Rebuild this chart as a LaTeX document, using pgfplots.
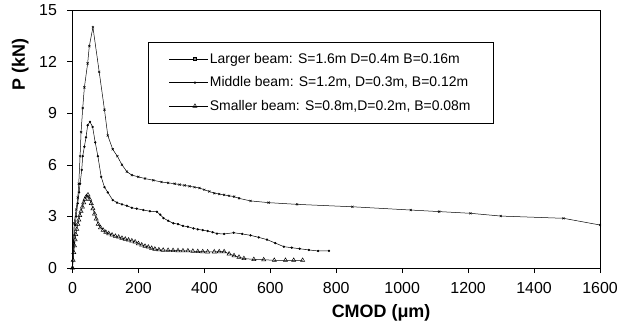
\documentclass[border=0pt]{standalone}
\usepackage{fontspec}
\setmainfont{Liberation Sans}
\usepackage{pgfplots}
\pgfplotsset{compat=1.18}
\begin{document}
\begin{tikzpicture}
\begin{axis}[
  scale only axis, width=527.5bp, height=258bp,
  xmin=0, xmax=1600, ymin=0, ymax=15,
  xtick={0,200,...,1600}, ytick={0,3,...,15},
  tick align=outside, tick pos=left, major tick length=5bp,
  axis line style={line width=0.6pt},
  every tick/.style={black, line width=0.5pt},
  /pgf/number format/assume math mode=true,
  /pgf/number format/1000 sep={},
  ticklabel style={font=\fontsize{16}{18}\selectfont},
  xticklabel style={yshift=-6bp},
  yticklabel style={xshift=-7bp},
  xlabel={\textbf{CMOD (μm)}},
  ylabel={\textbf{P (kN)}},
  xlabel style={font=\fontsize{18}{20}\selectfont, at={(axis description cs:0.585,0)}, anchor=center, yshift=-45bp},
  ylabel style={font=\fontsize{18}{20}\selectfont, at={(axis description cs:-0.099,0.79)}, anchor=center},
  legend style={at={(axis description cs:0.143,0.876)}, anchor=north west, draw=black, line width=0.5pt,
    font=\fontsize{14}{16}\selectfont, nodes={font=\fontsize{14}{16}\selectfont},
    inner xsep=21bp, inner ysep=9bp, row sep=8bp},
  legend cell align=left,
  legend image code/.code={\path (-0.45cm,0cm) -- (0cm,0cm); \draw[mark repeat=2, mark phase=2] plot coordinates {(0cm,0cm) (0.45cm,0cm) (0.9cm,0cm)};},
  every axis plot/.append style={black, line width=0.5pt},
]
\addlegendimage{mark=square*, mark size=1.4pt, mark options={fill=gray}}
\addlegendentry{Larger beam: S=1.6m D=0.4m B=0.16m}
\addlegendimage{mark=*, mark size=0.9pt}
\addlegendentry{Middle beam: S=1.2m, D=0.3m, B=0.12m}
\addlegendimage{mark=triangle, mark size=2.4pt}
\addlegendentry{Smaller beam: S=0.8m,D=0.2m, B=0.08m}

\addplot[forget plot, mark=x, mark size=1.5pt] coordinates {
(0,0) (5,2.6) (11,3.4) (16,4.1) (19,4.9) (23,6.5) (26,7.9) (31,9.3) (36,10.5) (46,11.9) (51,12.9) (62,14.0)
(81,11.4) (97,9.2) (107,7.7) (122,6.9) (136,6.5) (150,6.0) (165,5.6) (180,5.4) (200,5.3) (220,5.2) (245,5.1)
(270,5.0) (290,4.95) (310,4.9) (325,4.85) (340,4.8) (355,4.75) (370,4.7) (385,4.65) (400,4.55) (415,4.45)
(430,4.35) (445,4.3) (460,4.25) (475,4.2) (490,4.15) (505,4.05) (540,3.9) (595,3.8) (681,3.7) (849,3.56)
(1026,3.37) (1112,3.28) (1207,3.18) (1299,3.02) (1489,2.89) (1600,2.5)
};
\addplot[forget plot, mark=*, mark size=0.9pt] coordinates {
(0,0) (4,1.5) (8,2.5) (11,3.0) (16,3.76) (20,4.4) (23,4.9) (28,5.7) (31,6.5) (36,7.05) (41,7.6) (46,8.3) (53,8.5)
(61,8.2) (69,7.3) (77,6.5) (87,5.3) (97,4.7) (107,4.4) (122,3.95) (135,3.8) (150,3.7) (165,3.62) (180,3.5)
(195,3.45) (215,3.37) (235,3.3) (256,3.27) (266,3.1) (276,2.9) (290,2.75) (306,2.6) (320,2.55) (335,2.45)
(350,2.4) (367,2.3) (380,2.25) (395,2.2) (410,2.15) (425,2.08) (438,2.0) (460,1.98) (489,2.05) (515,1.98)
(540,1.9) (565,1.78) (590,1.65) (615,1.45) (641,1.24) (665,1.18) (689,1.12) (717,1.05) (745,0.99) (778,1.0)
};
\addplot[forget plot, mark=triangle, mark size=2.4pt] coordinates {
(0,0) (2,0.45) (4,0.9) (6,1.3) (8,1.65) (10,1.95) (13,2.25) (16,2.55) (19,2.8) (22,3.05) (26,3.3) (30,3.55)
(34,3.8) (38,4.0) (42,4.15) (47,4.25) (52,4.0) (57,3.75) (62,3.45) (67,3.15) (72,2.85) (78,2.55) (85,2.35)
(93,2.2) (101,2.08) (110,2.0) (120,1.92) (130,1.85) (140,1.8) (150,1.73) (160,1.68) (170,1.63) (180,1.58)
(190,1.52) (200,1.42) (210,1.34) (220,1.27) (230,1.22) (240,1.15) (250,1.1) (262,1.06) (275,1.04) (290,1.03)
(305,1.02) (320,1.01) (335,1.0) (350,1.0) (365,0.98) (380,0.96) (395,0.95) (410,0.94) (430,0.94) (445,0.95)
(460,0.95) (475,0.82) (490,0.72) (505,0.63) (520,0.55) (550,0.5) (580,0.48) (612,0.45) (646,0.45) (671,0.45) (698,0.45)
};
\end{axis}
\pgfresetboundingbox
\path (-72.5bp,-59bp) rectangle (548.5bp,268bp);
\end{tikzpicture}
\end{document}
